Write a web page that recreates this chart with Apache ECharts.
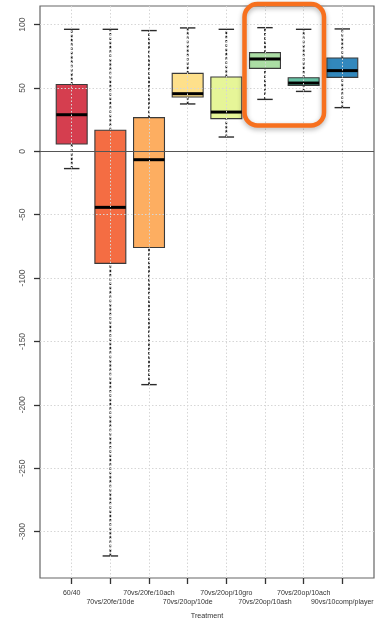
<!DOCTYPE html>
<html>
<head>
<meta charset="utf-8">
<script src="https://cdn.jsdelivr.net/npm/echarts@6/dist/echarts.min.js"></script>
<style>
  html, body { margin: 0; padding: 0; background: #fff; }
  #chart { width: 384px; height: 619px; }
</style>
</head>
<body>
<div id="chart"></div>
<script>
// Treatment groups and their five-number summaries
const categories = ['60/40', '70vs/20fe/10de', '70vs/20fe/10ach', '70vs/20op/10de',
  '70vs/20op/10gro', '70vs/20op/10ash', '70vs/20op/10ach', '90vs/10comp/player'];
const lowWhisker  = [-13.6, -319.3, -184.1, 37.4, 11.3, 41.0, 47.3, 34.5];
const lowerQuart  = [5.8, -88.4, -75.9, 42.9, 25.8, 65.5, 52.0, 58.4];
const medians     = [28.9, -44.2, -6.6, 45.5, 31.0, 72.9, 53.9, 63.7];
const upperQuart  = [52.8, 16.7, 26.6, 61.5, 58.7, 77.9, 58.1, 73.7];
const highWhisker = [96.3, 96.3, 95.3, 97.4, 96.3, 97.6, 96.3, 96.6];
const boxColors = ['#D53E4F', '#F46D43', '#FDAE61', '#FEE08B', '#E6F598', '#ABDDA4', '#66C2A5', '#3288BD'];
const yTicks = [-300, -250, -200, -150, -100, -50, 0, 50, 100];
const xTicks = [1, 2, 3, 4, 5, 6, 7, 8];

const FONT = '"Liberation Sans", Arial, sans-serif';

// labels alternate between two rows so the long names do not collide
const upperRowTicks = xTicks.filter(v => v % 2 === 1);
const lowerRowTicks = xTicks.filter(v => v % 2 === 0);
const nameAt = v => categories[Math.round(v) - 1];

const boxData = categories.map((c, i) => [i + 1, lowWhisker[i], lowerQuart[i], medians[i], upperQuart[i], highWhisker[i], i]);

function renderBox(params, api) {
  const x = api.value(0);
  const idx = api.value(6);
  const pLow = api.coord([x, api.value(1)]);
  const pQ1 = api.coord([x, api.value(2)]);
  const pMed = api.coord([x, api.value(3)]);
  const pQ3 = api.coord([x, api.value(4)]);
  const pHigh = api.coord([x, api.value(5)]);
  const half = api.size([0.8, 0])[0] / 2;
  const cap = api.size([0.4, 0])[0] / 2;
  const cx = pMed[0];
  const whisk = { stroke: '#222', lineWidth: 1.7, lineDash: [2.5, 1.8] };
  const solid = { stroke: '#2b2b2b', lineWidth: 1.4 };
  return {
    type: 'group',
    children: [
      { type: 'line', shape: { x1: cx, y1: pQ3[1], x2: cx, y2: pHigh[1] }, style: whisk },
      { type: 'line', shape: { x1: cx, y1: pLow[1], x2: cx, y2: pQ1[1] }, style: whisk },
      { type: 'line', shape: { x1: cx - cap, y1: pHigh[1], x2: cx + cap, y2: pHigh[1] }, style: solid },
      { type: 'line', shape: { x1: cx - cap, y1: pLow[1], x2: cx + cap, y2: pLow[1] }, style: solid },
      { type: 'rect', shape: { x: cx - half, y: pQ3[1], width: half * 2, height: pQ1[1] - pQ3[1] },
        style: { fill: boxColors[idx], stroke: '#3a3a3a', lineWidth: 1.1 } },
      { type: 'line', shape: { x1: cx - half, y1: pMed[1], x2: cx + half, y2: pMed[1] },
        style: { stroke: '#000', lineWidth: 3 } }
    ]
  };
}

const labelStyle = { fontFamily: FONT, fontSize: 7, color: '#333', showMinLabel: true, showMaxLabel: true, hideOverlap: false, formatter: nameAt };

const chart = echarts.init(document.getElementById('chart'));
chart.setOption({
  animation: false,
  backgroundColor: '#fff',
  grid: {
    left: 40, right: 10, top: 6, bottom: 41, containLabel: false, outerBoundsMode: 'none',
    show: true, borderColor: '#666', borderWidth: 1.2, backgroundColor: 'transparent'
  },
  xAxis: [
    {
      type: 'value', min: 0.18, max: 8.82, position: 'bottom',
      name: 'Treatment', nameLocation: 'middle', nameGap: 35,
      nameTextStyle: { fontFamily: FONT, fontSize: 7.2, color: '#333' },
      axisLine: { show: false, onZero: false },
      splitLine: { show: false },
      axisTick: { show: true, customValues: xTicks, length: 6, lineStyle: { color: '#333', width: 1.3 } },
      axisLabel: Object.assign({ customValues: upperRowTicks, margin: 12 }, labelStyle)
    },
    {
      type: 'value', min: 0.18, max: 8.82, position: 'bottom',
      axisLine: { show: false, onZero: false },
      splitLine: { show: false },
      axisTick: { show: false },
      axisLabel: Object.assign({ customValues: lowerRowTicks, margin: 21 }, labelStyle)
    }
  ],
  yAxis: {
    type: 'value', min: -336.7, max: 114.7,
    axisLine: { show: false, onZero: false },
    splitLine: { show: false },
    axisTick: { show: true, customValues: yTicks, length: 6, lineStyle: { color: '#333', width: 1.3 } },
    axisLabel: {
      customValues: yTicks, rotate: 90, margin: 13, fontFamily: FONT, fontSize: 8.5, color: '#555',
      showMinLabel: true, showMaxLabel: true
    }
  },
  series: [
    {
      // reference grid and the zero line
      type: 'line', data: [], silent: true, z: 1,
      markLine: {
        silent: true, symbol: ['none', 'none'], label: { show: false },
        lineStyle: { color: '#d6d6d6', type: [1.5, 2], width: 1 },
        data: yTicks.map(v => ({ yAxis: v })).concat(xTicks.map(v => ({ xAxis: v })))
      }
    },
    {
      type: 'line', data: [], silent: true, z: 2,
      markLine: {
        silent: true, symbol: ['none', 'none'], label: { show: false },
        lineStyle: { color: '#555', type: 'solid', width: 1 },
        data: [{ yAxis: 0 }]
      }
    },
    {
      type: 'custom', z: 3,
      renderItem: renderBox,
      encode: { x: 0, y: [1, 2, 3, 4, 5] },
      data: boxData
    }
  ],
  graphic: [
    {
      type: 'rect', z: 100,
      shape: { x: 244.5, y: 4, width: 79.5, height: 121.5, r: 13 },
      style: { fill: 'none', stroke: '#F7701E', lineWidth: 4.5, shadowBlur: 5, shadowColor: 'rgba(0,0,0,0.3)', shadowOffsetY: 2 }
    }
  ]
});
</script>
</body>
</html>
